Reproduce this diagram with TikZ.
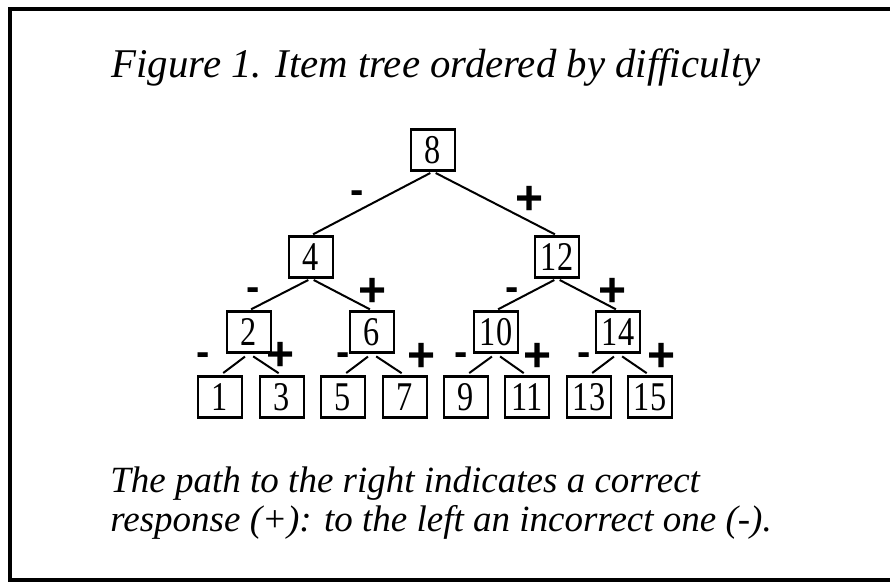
\documentclass[tikz,border=0pt]{standalone}
\usepackage{fontspec}
\usepackage{graphicx}
\setmainfont{Liberation Serif}
\newfontfamily\labfont{Liberation Sans}
\newcommand{\tallnum}[1]{\scalebox{0.95}[1.2]{#1}}
\begin{document}
\begin{tikzpicture}[x=0.5pt,y=-0.5pt,
  box/.style={draw,line width=1.1pt,minimum width=22pt,minimum height=20.5pt,inner sep=0pt,
    font=\fontsize{17}{17}\selectfont},
  edge/.style={line width=1pt,shorten <=1.5pt,shorten >=1.2pt},
  leafedge/.style={line width=1pt,shorten <=2.5pt,shorten >=2pt},
  plus/.style={inner sep=0pt,font=\labfont\bfseries\fontsize{24}{24}\selectfont},
  minus/.style={inner sep=0pt,font=\labfont\bfseries\fontsize{20}{20}\selectfont},
  caption/.style={inner sep=0pt,anchor=base west,font=\itshape\fontsize{18.5}{18.5}\selectfont}]
\useasboundingbox (0,0) rectangle (890,584);
\draw[line width=2pt] (900,9) -- (10,9) -- (10,580) -- (900,580);
\node[inner sep=0pt,anchor=base,font=\itshape\fontsize{20.4}{20.4}\selectfont] (title) at (436,77)
  {Figure 1. Item tree ordered by difficulty};
% nodes
\node[box] (n8) at (433,150) {\tallnum{8}};
\node[box] (n4) at (311,257) {\tallnum{4}};
\node[box] (n12) at (557,257) {\tallnum{12}};
\node[box] (n2) at (249,332) {\tallnum{2}};
\node[box] (n6) at (372,332) {\tallnum{6}};
\node[box] (n10) at (496,332) {\tallnum{10}};
\node[box] (n14) at (618,332) {\tallnum{14}};
\node[box] (n1) at (220,397) {\tallnum{1}};
\node[box] (n3) at (282,397) {\tallnum{3}};
\node[box] (n5) at (343,397) {\tallnum{5}};
\node[box] (n7) at (405,397) {\tallnum{7}};
\node[box] (n9) at (466,397) {\tallnum{9}};
\node[box] (n11) at (527,397) {\tallnum{11}};
\node[box] (n13) at (589,397) {\tallnum{13}};
\node[box] (n15) at (650,397) {\tallnum{15}};
% edges
\draw[edge] (n8.south) -- (n4.north);
\draw[edge] (n8.south) -- (n12.north);
\draw[edge] (n4.south) -- (n2.north);
\draw[edge] (n4.south) -- (n6.north);
\draw[edge] (n12.south) -- (n10.north);
\draw[edge] (n12.south) -- (n14.north);
\draw[leafedge] (n2.south) -- (n1.north);
\draw[leafedge] (n2.south) -- (n3.north);
\draw[leafedge] (n6.south) -- (n5.north);
\draw[leafedge] (n6.south) -- (n7.north);
\draw[leafedge] (n10.south) -- (n9.north);
\draw[leafedge] (n10.south) -- (n11.north);
\draw[leafedge] (n14.south) -- (n13.north);
\draw[leafedge] (n14.south) -- (n15.north);
% signs
\node[minus] (m8) at (357,197) {-};
\node[plus] (p8) at (530,200) {+};
\node[minus] (m4) at (253,294) {-};
\node[plus] (p4) at (373,292) {+};
\node[minus] (m12) at (512,294) {-};
\node[plus] (p12) at (613,292) {+};
\node[minus] (m2) at (203,359) {-};
\node[plus] (p2) at (281,356) {+};
\node[minus] (m6) at (343,359) {-};
\node[plus] (p6) at (422,357) {+};
\node[minus] (m10) at (461,359) {-};
\node[plus] (p10) at (538,357) {+};
\node[minus] (m14) at (584,359) {-};
\node[plus] (p14) at (662,357) {+};
% caption
\node[caption] (c1) at (110,492) {The path to the right indicates a correct};
\node[caption] (c2) at (110,531) {response (+): to the left an incorrect one (-).};
\end{tikzpicture}
\end{document}
